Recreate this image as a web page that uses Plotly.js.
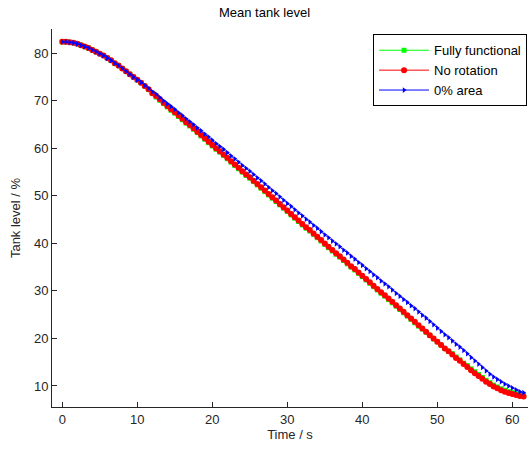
<!DOCTYPE html>
<html>
<head>
<meta charset="utf-8">
<script src="https://cdn.plot.ly/plotly-3.0.1.min.js"></script>
<style>html,body{margin:0;padding:0;background:#fff;}#chart{width:529px;height:450px;}</style>
</head>
<body>
<div id="chart"></div>
<script>
const timeS = [0,0.5,1,1.5,2,2.5,3,3.5,4,4.5,5,5.5,6,6.5,7,7.5,8,8.5,9,9.5,
10,10.5,11,11.5,12,12.5,13,13.5,14,14.5,15,15.5,16,16.5,17,17.5,18,18.5,19,19.5,
20,20.5,21,21.5,22,22.5,23,23.5,24,24.5,25,25.5,26,26.5,27,27.5,28,28.5,29,29.5,
30,30.5,31,31.5,32,32.5,33,33.5,34,34.5,35,35.5,36,36.5,37,37.5,38,38.5,39,39.5,
40,40.5,41,41.5,42,42.5,43,43.5,44,44.5,45,45.5,46,46.5,47,47.5,48,48.5,49,49.5,
50,50.5,51,51.5,52,52.5,53,53.5,54,54.5,55,55.5,56,56.5,57,57.5,58,58.5,59,59.5,
60,60.5,61,61.5];

const fullyFunctional = [82.4,82.4,82.3,82.2,82.0,81.7,81.4,81.1,80.7,80.3,79.9,79.5,79.0,78.5,77.9,77.4,76.8,76.2,75.6,75.0,
74.4,73.8,73.1,72.4,71.6,70.8,70.1,69.4,68.7,68.0,67.4,66.7,66.0,65.3,64.7,64.0,63.3,62.6,61.9,61.2,
60.5,59.8,59.2,58.5,57.8,57.1,56.4,55.7,55.0,54.3,53.7,53.0,52.3,51.6,50.9,50.2,49.5,48.8,48.1,47.4,
46.7,46.0,45.3,44.6,43.9,43.2,42.6,41.9,41.2,40.5,39.8,39.1,38.4,37.7,37.1,36.4,35.7,35.0,34.4,33.7,
33.0,32.3,31.6,30.9,30.2,29.5,28.9,28.2,27.5,26.8,26.1,25.4,24.7,24.0,23.3,22.6,22.0,21.3,20.6,19.9,
19.3,18.6,17.9,17.3,16.8,16.1,15.5,14.8,14.3,13.6,13.0,12.4,11.8,11.2,10.7,10.2,9.8,9.4,9.1,8.8,
8.6,8.4,8.2,8.1];

const noRotation = [82.4,82.4,82.3,82.2,82.0,81.7,81.4,81.1,80.7,80.3,79.9,79.5,79.0,78.5,77.9,77.4,76.8,76.2,75.6,75.0,
74.4,73.8,73.1,72.4,71.6,71.0,70.3,69.6,68.9,68.2,67.6,66.9,66.2,65.5,64.9,64.2,63.5,62.8,62.1,61.4,
60.7,60.0,59.4,58.7,58.0,57.3,56.6,55.9,55.2,54.5,53.9,53.2,52.5,51.8,51.1,50.4,49.7,49.0,48.3,47.6,
46.9,46.2,45.5,44.8,44.1,43.4,42.8,42.1,41.4,40.7,40.0,39.3,38.6,37.9,37.3,36.6,35.9,35.2,34.6,33.9,
33.2,32.5,31.8,31.1,30.4,29.7,29.1,28.4,27.7,27.0,26.3,25.6,24.9,24.2,23.5,22.8,22.1,21.4,20.7,20.0,
19.3,18.6,17.9,17.3,16.6,15.9,15.3,14.6,14.0,13.3,12.7,12.1,11.5,10.9,10.4,9.9,9.5,9.1,8.8,8.5,
8.3,8.1,7.9,7.8];

const zeroArea = [82.4,82.4,82.3,82.2,82.0,81.7,81.4,81.1,80.7,80.3,79.9,79.5,79.0,78.5,77.9,77.4,76.8,76.2,75.6,75.0,
74.4,73.9,73.2,72.6,71.9,71.4,70.7,70.0,69.4,68.8,68.2,67.5,66.9,66.2,65.6,65.0,64.3,63.7,63.0,62.4,
61.7,61.0,60.4,59.8,59.1,58.4,57.8,57.1,56.4,55.8,55.2,54.5,53.8,53.2,52.5,51.8,51.1,50.5,49.8,49.1,
48.4,47.8,47.1,46.4,45.8,45.1,44.5,43.8,43.2,42.5,41.8,41.2,40.5,39.9,39.3,38.6,38.0,37.3,36.7,36.0,
35.4,34.7,34.1,33.4,32.8,32.1,31.5,30.9,30.2,29.5,28.9,28.2,27.6,26.9,26.3,25.6,24.9,24.3,23.6,22.9,
22.2,21.5,20.8,20.2,19.5,18.8,18.2,17.5,16.8,16.0,15.3,14.6,13.9,13.2,12.5,11.9,11.4,10.9,10.4,10.0,
9.6,9.2,8.8,8.6];

const seriesNames = ["Fully functional", "No rotation", "0% area"];
const xTicks = [0,10,20,30,40,50,60];
const yTicks = [10,20,30,40,50,60,70,80];

const axisColor = "#262626";
const font = "Arial, 'Liberation Sans', sans-serif";

const traces = [
  {x: timeS, y: fullyFunctional, name: seriesNames[0], mode: "lines+markers", type: "scatter",
   line: {color: "#00ff00", width: 1}, marker: {symbol: "square", size: 5, color: "#00ff00"}},
  {x: timeS, y: noRotation, name: seriesNames[1], mode: "lines+markers", type: "scatter",
   line: {color: "#ff0000", width: 1}, marker: {symbol: "circle", size: 6, color: "#ff0000"}},
  {x: timeS, y: zeroArea, name: seriesNames[2], mode: "lines+markers", type: "scatter",
   line: {color: "#0000ff", width: 1}, marker: {symbol: "triangle-right", size: 5, color: "#0000ff"}}
];

const layout = {
  width: 529, height: 450,
  margin: {l: 52, r: 1, t: 29, b: 43, pad: 0},
  paper_bgcolor: "#ffffff", plot_bgcolor: "#ffffff",
  font: {family: font, size: 13, color: axisColor},
  title: {text: "Mean tank level", font: {family: font, size: 13, color: "#000"}, x: 0.5, xanchor: "center", y: 0.972, yanchor: "middle"},
  xaxis: {range: [-1.37, 62.09], tickvals: xTicks, ticks: "inside", ticklen: 5, tickcolor: axisColor,
          showline: true, linecolor: axisColor, linewidth: 1, showgrid: false, zeroline: false,
          title: {text: "Time / s", font: {family: font, size: 13, color: axisColor}, standoff: 4},
          tickfont: {family: font, size: 13, color: axisColor}},
  yaxis: {range: [5.58, 85.1], tickvals: yTicks, ticks: "inside", ticklen: 5, tickcolor: axisColor,
          showline: true, linecolor: axisColor, linewidth: 1, showgrid: false, zeroline: false,
          title: {text: "Tank level / %", font: {family: font, size: 13, color: axisColor}, standoff: 10},
          tickfont: {family: font, size: 13, color: axisColor}},
  legend: {x: 0.998, xanchor: "right", y: 0.986, yanchor: "top", bordercolor: "#000", borderwidth: 1,
           bgcolor: "#fff", font: {family: font, size: 13, color: "#000"}, tracegroupgap: 0, itemwidth: 50},
  showlegend: true,
  hovermode: false
};

Plotly.newPlot("chart", traces, layout, {staticPlot: true, displayModeBar: false});
</script>
</body>
</html>
